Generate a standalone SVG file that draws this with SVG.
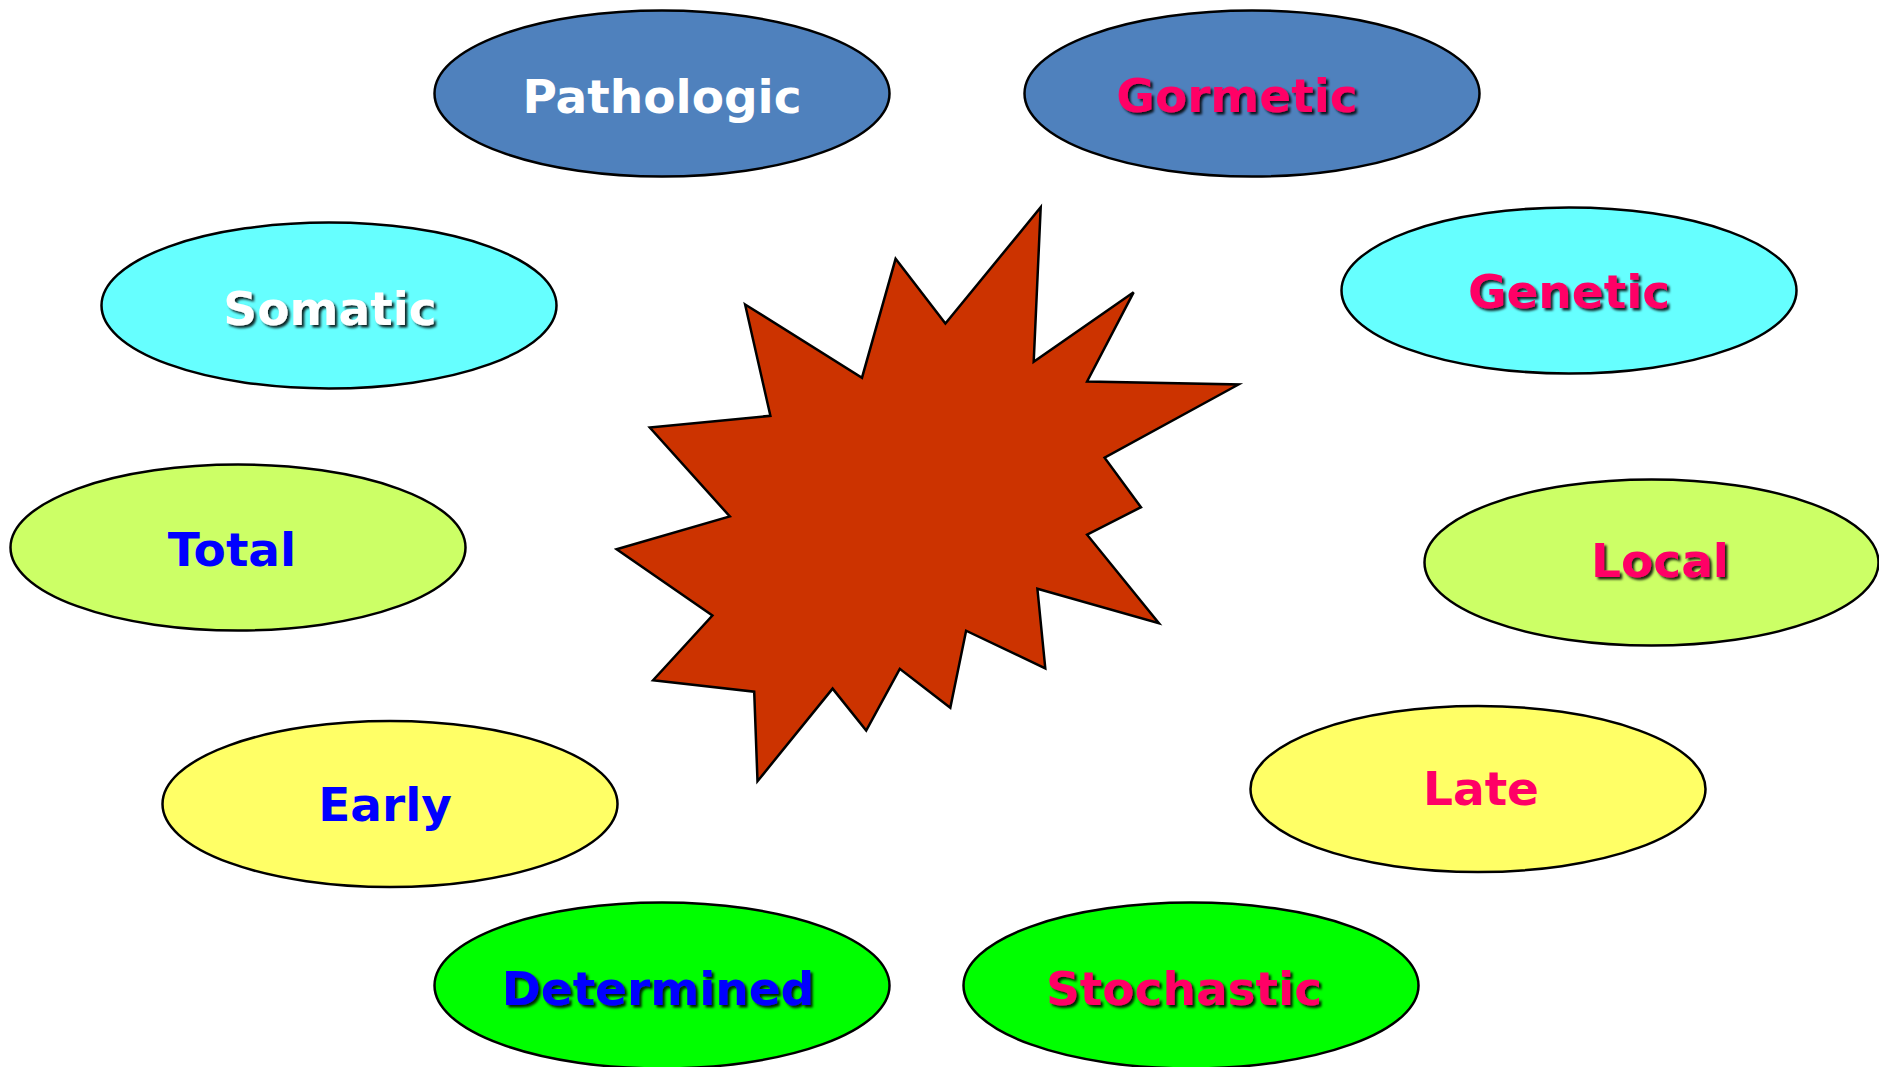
<svg xmlns="http://www.w3.org/2000/svg" width="1879" height="1067" viewBox="0 0 1879 1067">
<defs>
<filter id="sh" x="-10%" y="-30%" width="120%" height="160%">
<feDropShadow dx="2.5" dy="2.5" stdDeviation="1" flood-color="#000" flood-opacity="0.85"/>
</filter>
<style>
ellipse{stroke:#000;stroke-width:2.5}
text{font-family:"DejaVu Sans","Verdana",sans-serif;font-weight:bold;font-size:47px;text-anchor:middle}
.blue{fill:#4F81BD}.cyan{fill:#66FFFF}.lime{fill:#CCFF66}.yel{fill:#FFFF66}.grn{fill:#00FF00}
.w{fill:#FFFFFF}.m{fill:#FF0066}.b{fill:#0000FF}
.s{filter:url(#sh)}
</style>
</defs>
<rect width="1879" height="1067" fill="#fff"/>
<g id="star">
<polygon points="745.1,304.5 862,377.7 895.6,258.8 945.4,323.5 1040.7,207.3 1033.7,361.7 1133.6,292.3 1087.1,381.5 1238.5,384.5 1104.6,457.7 1141,507.2 1087.1,534.7 1158.9,623.1 1037.4,588.8 1045.3,668.4 966.1,630.7 950.3,707.7 899.8,668.8 866.2,730.6 832.6,688.6 757.5,781.2 754.2,691.7 653.1,680.2 712.4,615.5 616.6,549.2 729.8,516.4 649.8,427.6 770.4,415.8" fill="#CC3300" stroke="#000" stroke-width="2.5" stroke-linejoin="miter"/>
</g>
<g id="pathologic"><ellipse class="blue" cx="662" cy="93.5" rx="227.5" ry="83"/><text class="w" x="662" y="113">Pathologic</text></g>
<g id="gormetic"><ellipse class="blue" cx="1252" cy="93.5" rx="227.5" ry="83"/><text class="m s" x="1237" y="112">Gormetic</text></g>
<g id="somatic"><ellipse class="cyan" cx="329" cy="305.5" rx="227.5" ry="83"/><text class="w s" x="330" y="325">Somatic</text></g>
<g id="genetic"><ellipse class="cyan" cx="1569" cy="290.5" rx="227.5" ry="83"/><text class="m s" x="1569" y="308">Genetic</text></g>
<g id="total"><ellipse class="lime" cx="238" cy="547.5" rx="227.5" ry="83"/><text class="b" x="232" y="566">Total</text></g>
<g id="local"><ellipse class="lime" cx="1651.5" cy="562.5" rx="227" ry="83"/><text class="m s" x="1660" y="577">Local</text></g>
<g id="early"><ellipse class="yel" cx="390" cy="804" rx="227.5" ry="83"/><text class="b" x="385" y="821">Early</text></g>
<g id="late"><ellipse class="yel" cx="1478" cy="789" rx="227.5" ry="83"/><text class="m" x="1481" y="805">Late</text></g>
<g id="determined"><ellipse class="grn" cx="662" cy="985.5" rx="227.5" ry="83"/><text class="b s" x="658" y="1005">Determined</text></g>
<g id="stochastic"><ellipse class="grn" cx="1191" cy="985.5" rx="227.5" ry="83"/><text class="m s" x="1184" y="1005">Stochastic</text></g>
<g id="connectors"></g>
</svg>
